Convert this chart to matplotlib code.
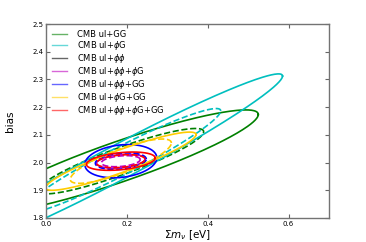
import numpy as np
import matplotlib.pyplot as plt
from matplotlib.lines import Line2D

# fiducial values
mnu_fid = 0.185
bias_fid = 2.005

labels = ['CMB ul+GG', r'CMB ul+$\phi$G', r'CMB ul+$\phi\phi$', r'CMB ul+$\phi\phi$+$\phi$G',
          r'CMB ul+$\phi\phi$+GG', r'CMB ul+$\phi$G+GG', r'CMB ul+$\phi\phi$+$\phi$G+GG']
colors = ['g', 'c', 'k', 'm', 'b', '#ffcc00', 'r']

# solid contours: sigma(mnu), sigma(bias), correlation  (None = off the plot)
sig_m_solid = [0.34, 0.40, None, 0.060, 0.089, 0.186, 0.085]
sig_b_solid = [0.185, 0.315, None, 0.025, 0.060, 0.105, 0.033]
rho_solid = [0.91, 0.975, None, 0.30, 0.20, 0.914, 0.35]

# dashed contours
sig_m_dash = [0.205, 0.247, None, 0.048, 0.063, 0.125, 0.060]
sig_b_dash = [0.118, 0.190, None, 0.020, 0.030, 0.080, 0.0235]
rho_dash = [0.90, 0.955, None, 0.30, 0.25, 0.82, 0.30]


def ellipse(sx, sy, rho, n=300):
    t = np.linspace(0, 2 * np.pi, n)
    x = mnu_fid + sx * np.cos(t)
    y = bias_fid + sy * (rho * np.cos(t) + np.sqrt(1 - rho**2) * np.sin(t))
    return x, y


fig = plt.figure(figsize=(3.66, 2.42), dpi=100)
ax = fig.add_axes([0.1257, 0.0992, 0.7733, 0.8016])

for i in range(len(labels)):
    if sig_m_solid[i] is not None:
        x, y = ellipse(sig_m_solid[i], sig_b_solid[i], rho_solid[i])
        ax.plot(x, y, color=colors[i], lw=1.2)
    if sig_m_dash[i] is not None:
        x, y = ellipse(sig_m_dash[i], sig_b_dash[i], rho_dash[i])
        ax.plot(x, y, color=colors[i], lw=1.2, ls='--')

handles = [Line2D([], [], color=c, lw=1.0, alpha=0.6) for c in colors]
ax.legend(handles, labels, loc='upper left', frameon=False, fontsize=6,
          handlelength=1.8, handletextpad=1.2, labelspacing=0.0,
          borderaxespad=0.3)

ax.set_xlim(0.0, 0.7)
ax.set_ylim(1.8, 2.5)
ax.set_xticks([0.0, 0.2, 0.4, 0.6])
ax.set_yticks(np.arange(1.8, 2.51, 0.1))
ax.tick_params(direction='in', top=True, right=True, labelsize=5, length=3,
               color='0.4', pad=2)
for s in ax.spines.values():
    s.set_color('0.45')
    s.set_linewidth(1.0)
ax.set_xlabel(r'$\Sigma m_\nu$ [eV]', fontsize=7.5, labelpad=1)
ax.set_ylabel('bias', fontsize=7.5, labelpad=12)

fig.savefig('out.png', dpi=100)
